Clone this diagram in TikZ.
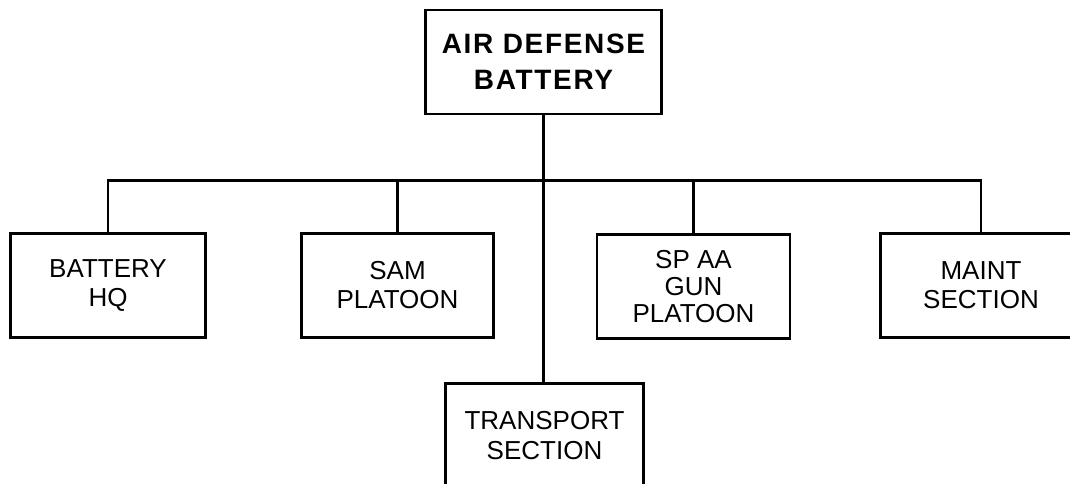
\documentclass[tikz,border=0pt]{standalone}
\usepackage{fontspec}
\setmainfont{Liberation Sans}
\newfontfamily\chefefont[LetterSpace=6]{Liberation Sans}
\usepackage{tikz}
\usetikzlibrary{positioning, calc}

\tikzset{
  caixa/.style={draw, line width=2.4pt, align=center, inner sep=0pt, minimum height=104pt, font=\fontsize{26}{29}\selectfont},
  ligacao/.style={line width=2.4pt}
}

\begin{document}
\begin{tikzpicture}[x=1pt, y=-1pt]
% --- MOLDURA E RECORTE ---
\useasboundingbox (0,0) rectangle (1070,484);
\clip (0,0) rectangle (1070,484);

% LAYER 1: Comando
\node[caixa, minimum width=236pt, font=\chefefont\bfseries\fontsize{28}{36}\selectfont] (bateria) at (543.5,62) {AIR DEFENSE\\BATTERY};

% LAYER 2: Subordinados
\node[caixa, minimum width=195pt] (qg) at (108,285.5) {BATTERY\\HQ};
\node[caixa, minimum width=192pt] (sam) at (397.5,285.5) {SAM\\PLATOON};
\node[caixa, minimum width=193pt, font=\fontsize{26}{27}\selectfont] (spaa) at (693.5,286.5) {SP AA\\GUN\\PLATOON};
\node[caixa, minimum width=201pt] (manut) at (981,285.5) {MAINT\\SECTION};
\node[caixa, minimum width=198pt, font=\fontsize{26}{30}\selectfont] (transp) at (544.5,435.5) {TRANSPORT\\SECTION};

% LAYER 3: Ligacoes
\coordinate (barra) at (543.5,180.5);
\draw[ligacao] (qg.north) -- (qg.north |- barra) -- (manut.north |- barra) -- (manut.north);
\foreach \n in {sam, spaa} \draw[ligacao] (\n.north) -- (\n.north |- barra);
\draw[ligacao] (bateria.south) -- (bateria.south |- transp.north);
\end{tikzpicture}
\end{document}
